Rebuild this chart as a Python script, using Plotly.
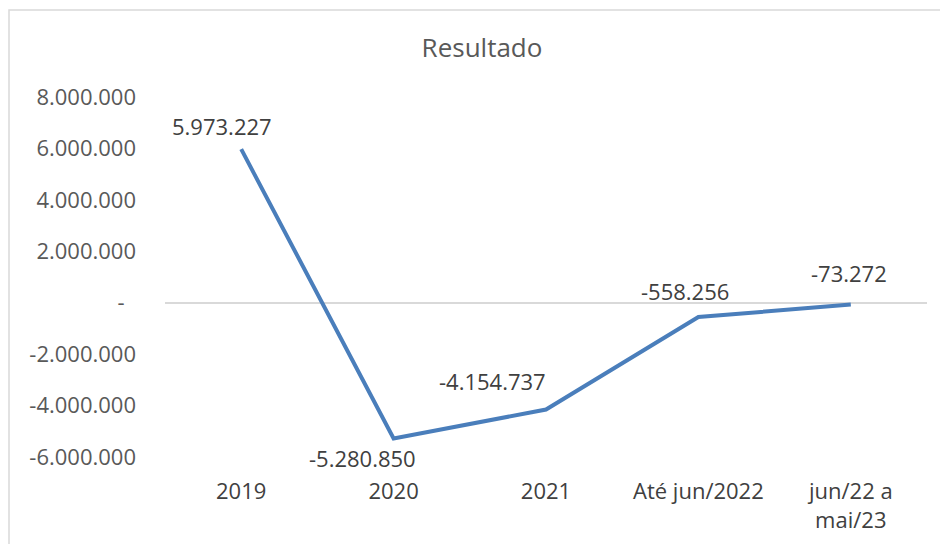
import plotly.graph_objects as go

categories = ["2019", "2020", "2021", "Até jun/2022", "jun/22 a<br>mai/23"]
resultado = [5973227, -5280850, -4154737, -558256, -73272]
value_labels = ["5.973.227", "-5.280.850", "-4.154.737", "-558.256", "-73.272"]
y_tickvals = [-6000000, -4000000, -2000000, 0, 2000000, 4000000, 6000000, 8000000]
y_ticktext = ["-6.000.000", "-4.000.000", "-2.000.000", "-  ", "2.000.000", "4.000.000", "6.000.000", "8.000.000"]

label_shift = [(-19, 23), (-31, -19), (-54, 29), (-13, 26), (-2, 32)]

W, H = 948, 544
ml, mt = 157, 89
pw, ph = 762, 360
mr, mb = W - ml - pw, H - mt - ph

fig = go.Figure()
fig.add_trace(go.Scatter(
    x=categories, y=resultado, mode="lines",
    line=dict(color="#4a7ebb", width=4),
    hoverinfo="skip", showlegend=False,
))

for i, (v, t, (dx, dy)) in enumerate(zip(resultado, value_labels, label_shift)):
    fig.add_annotation(x=i, y=v, text=t, showarrow=False, xshift=dx, yshift=dy,
                       font=dict(family="Open Sans", size=22, color="#404040"))

fig.add_shape(type="rect", xref="paper", yref="paper",
              x0=(1 - ml) / pw, x1=(W + 20 - ml) / pw,
              y0=-(H + 20 - mt - ph) / ph, y1=1 + (mt - 2) / ph,
              line=dict(color="#d9d9d9", width=1.5), fillcolor="rgba(0,0,0,0)", layer="below")

fig.update_layout(
    width=W, height=H,
    margin=dict(l=ml, r=mr, t=mt, b=mb, autoexpand=False),
    paper_bgcolor="white", plot_bgcolor="white",
    title=dict(text="Resultado", x=0.5, xref="container", xanchor="center",
               y=1 - 40 / H, yanchor="middle",
               font=dict(family="Open Sans", size=26, color="#595959")),
    xaxis=dict(type="category", range=[-0.5, len(categories) - 0.5],
               showgrid=False, showline=False, ticks="", zeroline=False,
               tickfont=dict(family="Open Sans", size=22, color="#404040"),
               ticklabelstandoff=19, fixedrange=True, automargin=False),
    yaxis=dict(range=[-6000000, 8000000], tickvals=y_tickvals, ticktext=y_ticktext,
               showgrid=False, showline=False, ticks="",
               zeroline=True, zerolinecolor="#d9d9d9", zerolinewidth=1.5,
               tickfont=dict(family="Open Sans", size=22, color="#595959"),
               ticklabelstandoff=28, fixedrange=True, automargin=False),
)

fig.write_html("out.html")
